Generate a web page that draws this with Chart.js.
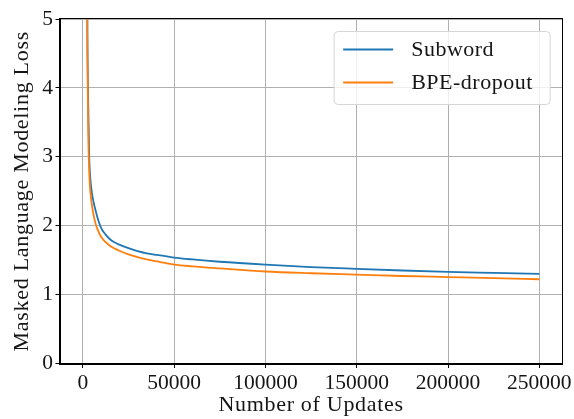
<!DOCTYPE html>
<html>
<head>
<meta charset="utf-8">
<script src="https://cdn.jsdelivr.net/npm/chart.js@4/dist/chart.umd.min.js"></script>
<style>
  html, body { margin: 0; padding: 0; background: #fff; }
  canvas { display: block; }
</style>
</head>
<body>
<canvas id="c" width="574" height="419"></canvas>
<script>
// ---- Data ----
const updates = [2000, 2500, 3000, 3500, 4000, 4500, 5000, 6000, 7000, 8000, 10000, 12500, 15000, 17500, 20000, 25000, 30000, 35000, 40000, 50000, 60000, 75000, 100000, 125000, 150000, 175000, 200000, 225000, 250000];
const subwordLoss = [8.0, 4.8, 3.7, 3.0, 2.72, 2.58, 2.47, 2.33, 2.22, 2.12, 1.97, 1.87, 1.80, 1.755, 1.725, 1.675, 1.632, 1.60, 1.577, 1.537, 1.51, 1.477, 1.435, 1.40, 1.374, 1.35, 1.33, 1.315, 1.30];
const bpeDropoutLoss = [8.0, 4.6, 3.3, 2.78, 2.53, 2.4, 2.29, 2.14, 2.03, 1.95, 1.84, 1.76, 1.705, 1.668, 1.637, 1.585, 1.545, 1.512, 1.485, 1.436, 1.41, 1.38, 1.335, 1.31, 1.29, 1.27, 1.255, 1.24, 1.223];
const seriesNames = ['Subword', 'BPE-dropout'];
const xTickValues = [0, 50000, 100000, 150000, 200000, 250000];
const yTickValues = [0, 1, 2, 3, 4, 5];
const xTitle = 'Number of Updates';
const yTitle = 'Masked Language Modeling Loss';

const FONT = "'Liberation Serif', 'Times New Roman', serif";
const TICK_FS = 21.5;
const TEXT_FS = 22;
const TXT = '#151515';

const toPts = arr => updates.map((u, i) => ({ x: u, y: arr[i] }));

// Slightly wider spacing for axis titles (reference uses a wide serif)
const titleSpacing = {
  id: 'titleSpacing',
  beforeDraw(chart) {
    Object.values(chart.scales).forEach(s => {
      if (s._spaced) return;
      const orig = s.drawTitle;
      s.drawTitle = function () {
        const ctx = this.ctx;
        ctx.save();
        ctx.letterSpacing = '0.7px';
        orig.apply(this, arguments);
        ctx.restore();
      };
      s._spaced = true;
    });
  }
};

// Frame (top/right spines) plugin
const framePlugin = {
  id: 'frame',
  afterDraw(chart) {
    const { ctx, chartArea: a } = chart;
    ctx.save();
    ctx.strokeStyle = '#000';
    ctx.lineWidth = 1;
    ctx.strokeRect(Math.round(a.left) - 0.5, Math.round(a.top) - 0.5,
                   Math.round(a.right - a.left) + 1, Math.round(a.bottom - a.top) + 1);
    ctx.restore();
  }
};

// Legend drawn inside the plot area (upper right)
const innerLegend = {
  id: 'innerLegend',
  afterDraw(chart) {
    const { ctx, chartArea: a } = chart;
    const boxL = a.right - 228, boxR = a.right - 12;
    const boxT = a.top + 12.5, boxB = a.top + 85.5;
    ctx.save();
    ctx.beginPath();
    ctx.roundRect(boxL, boxT, boxR - boxL, boxB - boxT, 4);
    ctx.fillStyle = 'rgba(255,255,255,0.8)';
    ctx.fill();
    ctx.strokeStyle = '#d6d6d6';
    ctx.lineWidth = 1;
    ctx.stroke();
    ctx.font = TEXT_FS + 'px ' + FONT;
    ctx.letterSpacing = '0.5px';
    ctx.textBaseline = 'middle';
    ctx.textAlign = 'left';
    chart.data.datasets.forEach((ds, i) => {
      const y = a.top + 30.5 + i * 33;
      ctx.beginPath();
      ctx.strokeStyle = ds.borderColor;
      ctx.lineWidth = ds.borderWidth;
      ctx.moveTo(a.right - 219, y);
      ctx.lineTo(a.right - 169, y);
      ctx.stroke();
      ctx.fillStyle = TXT;
      ctx.fillText(ds.label, a.right - 151, y + 1);
    });
    ctx.restore();
  }
};

new Chart(document.getElementById('c'), {
  type: 'line',
  data: {
    datasets: [
      { label: seriesNames[0], data: toPts(subwordLoss), borderColor: '#1f77b4', backgroundColor: '#1f77b4',
        borderWidth: 1.8, pointRadius: 0, cubicInterpolationMode: 'monotone', order: 1 },
      { label: seriesNames[1], data: toPts(bpeDropoutLoss), borderColor: '#ff7f0e', backgroundColor: '#ff7f0e',
        borderWidth: 1.8, pointRadius: 0, cubicInterpolationMode: 'monotone', order: 0 }
    ]
  },
  options: {
    responsive: false,
    animation: false,
    events: [],
    layout: { padding: { top: 19, right: 9, left: 0, bottom: 0 } },
    plugins: { legend: { display: false }, tooltip: { enabled: false } },
    scales: {
      x: {
        type: 'linear',
        min: -12500, max: 262500,
        afterBuildTicks: s => { s.ticks = xTickValues.map(v => ({ value: v })); },
        afterFit: s => { s.height = 55.5; },
        grid: { color: '#b0b0b0', lineWidth: 1, tickColor: '#000', tickLength: 4.5, tickWidth: 1 },
        border: { color: '#000', width: 1 },
        ticks: { color: TXT, font: { family: FONT, size: TICK_FS }, padding: 2, maxRotation: 0, autoSkip: false,
                 callback: v => String(v) },
        title: { display: true, text: xTitle, color: TXT, font: { family: FONT, size: TEXT_FS, lineHeight: 1 },
                 padding: { top: 0, bottom: 2.5 } }
      },
      y: {
        type: 'linear',
        min: 0, max: 5,
        afterBuildTicks: s => { s.ticks = yTickValues.map(v => ({ value: v })); },
        afterFit: s => { s.width = 60; },
        grid: { color: '#b0b0b0', lineWidth: 1, tickColor: '#000', tickLength: 4.5, tickWidth: 1 },
        border: { color: '#000', width: 1 },
        ticks: { color: TXT, font: { family: FONT, size: TICK_FS }, padding: 2.5, callback: v => String(v) },
        title: { display: true, text: yTitle, color: TXT, font: { family: FONT, size: TEXT_FS, lineHeight: 1 },
                 padding: { top: 11, bottom: 0 } }
      }
    }
  },
  plugins: [titleSpacing, framePlugin, innerLegend]
});
</script>
</body>
</html>
